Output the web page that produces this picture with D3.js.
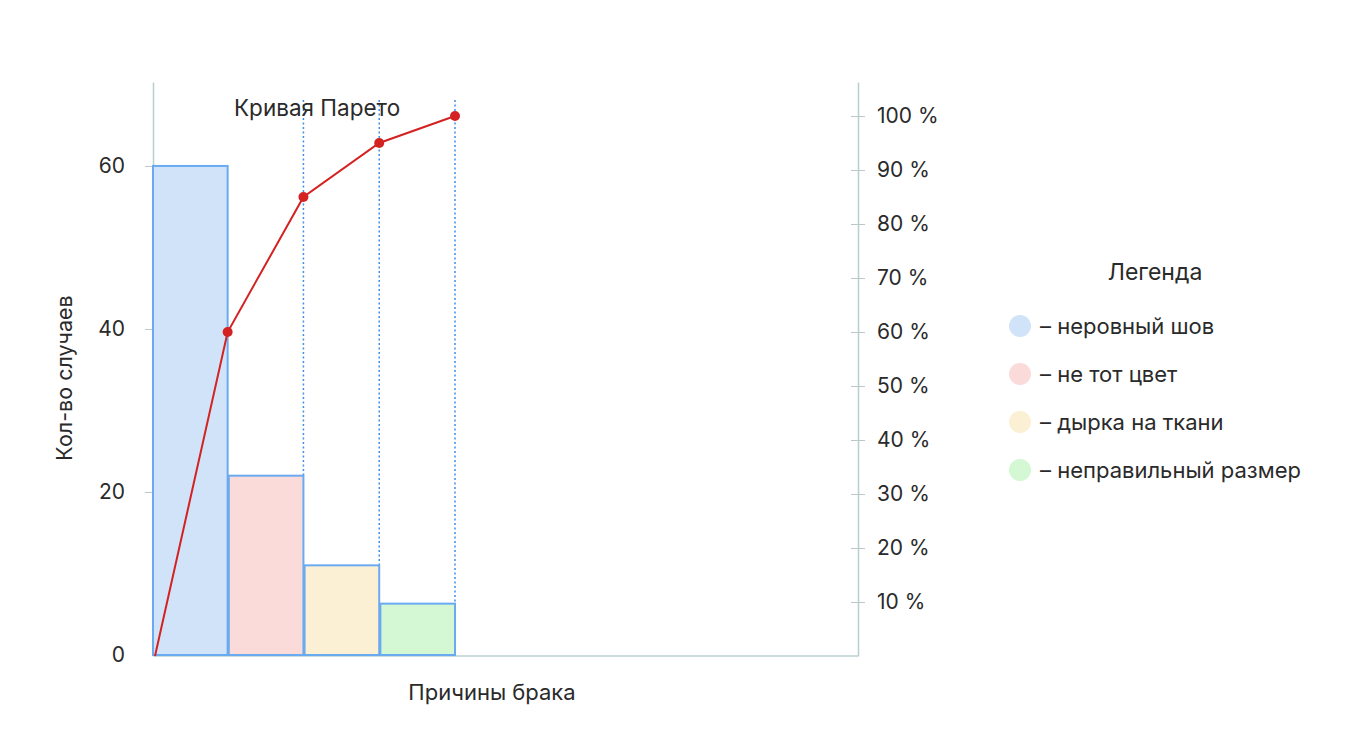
<!DOCTYPE html>
<html>
<head>
<meta charset="utf-8">
<script src="https://cdn.jsdelivr.net/npm/d3@7"></script>
<style>
  body { margin: 0; background: #fff; }
  text { font-family: Inter, "Noto Sans", sans-serif; fill: #2a2a2a; }
</style>
</head>
<body>
<div id="chart"></div>
<script>
// data
var categories = ["неровный шов", "не тот цвет", "дырка на ткани", "неправильный размер"];
var counts = [60, 22, 11, 6.3];
var cumulative = [60, 85, 95, 100];   // % on the right axis
var countTicks = [0, 20, 40, 60];
var percentTicks = [10, 20, 30, 40, 50, 60, 70, 80, 90, 100];

var fills = ["#d0e3f8", "#fbdada", "#fcf0d4", "#d3f8d3"];
var axisColor = "#b8d0d0";

var svg = d3.select("#chart")
  .append("svg")
  .attr("width", 1352)
  .attr("height", 740);

// scales
var x = d3.scaleBand()
  .domain(categories)
  .range([153, 455])
  .paddingInner(0.015);

var y = d3.scaleLinear()
  .domain([0, 70.3])
  .range([655, 82]);

var yR = d3.scaleLinear()
  .domain([0, 106.3])
  .range([656, 82]);

var left = 153, right = 858;

// x axis line
svg.append("line")
  .attr("x1", left).attr("x2", right)
  .attr("y1", 656).attr("y2", 656)
  .attr("stroke", axisColor)
  .attr("stroke-width", 1.5);

// left axis
var gl = svg.append("g")
  .attr("transform", "translate(" + left + ",0)")
  .call(d3.axisLeft(y).tickValues(countTicks).tickSizeInner(8).tickSizeOuter(0).tickPadding(20));
gl.select(".domain").attr("stroke", axisColor).attr("stroke-width", 1.5);
gl.selectAll(".tick line").attr("stroke", "#bcc8c8");
gl.selectAll(".tick text")
  .style("font-size", "21px")
  .style("fill", "#2a2a2a");
gl.selectAll(".tick").filter(function(d) { return d === 0; }).select("line").remove();

// right axis
var gr = svg.append("g")
  .attr("transform", "translate(" + right + ",0)")
  .call(d3.axisRight(yR).tickValues(percentTicks).tickSizeInner(7).tickSizeOuter(0).tickPadding(12)
    .tickFormat(function(d) { return d + " %"; }));
gr.select(".domain").attr("stroke", axisColor).attr("stroke-width", 1.5);
gr.selectAll(".tick line").attr("x1", -7).attr("x2", 7).attr("stroke", "#bcc8c8");
gr.selectAll(".tick text")
  .style("font-size", "21px")
  .style("fill", "#2a2a2a");

// dotted guides from the top down to each bar
svg.selectAll(".guide")
  .data(categories.slice(1))
  .enter()
  .append("line")
    .attr("class", "guide")
    .attr("x1", function(d) { return x(d) + x.bandwidth(); })
    .attr("x2", function(d) { return x(d) + x.bandwidth(); })
    .attr("y1", 100)
    .attr("y2", function(d) { return y(counts[categories.indexOf(d)]); })
    .attr("stroke", "#3f8ee8")
    .attr("stroke-width", 1.5)
    .attr("stroke-dasharray", "2,2.5");

// bars
svg.selectAll(".bar")
  .data(categories)
  .enter()
  .append("rect")
    .attr("class", "bar")
    .attr("x", function(d) { return x(d); })
    .attr("y", function(d, i) { return y(counts[i]); })
    .attr("width", x.bandwidth())
    .attr("height", function(d, i) { return y(0) - y(counts[i]); })
    .attr("fill", function(d, i) { return fills[i]; })
    .attr("stroke", "#6aaaf0")
    .attr("stroke-width", 2);

// pareto curve
var pts = [[x(categories[0]) + 2, yR(0)]].concat(categories.map(function(d, i) {
  return [x(d) + x.bandwidth(), yR(cumulative[i])];
}));

svg.append("path")
  .datum(pts)
  .attr("d", d3.line())
  .attr("fill", "none")
  .attr("stroke", "#d42222")
  .attr("stroke-width", 2);

svg.selectAll(".dot")
  .data(pts.slice(1))
  .enter()
  .append("circle")
    .attr("class", "dot")
    .attr("cx", function(d) { return d[0]; })
    .attr("cy", function(d) { return d[1]; })
    .attr("r", 5)
    .attr("fill", "#d42222");

// titles
svg.append("text")
  .attr("x", 234)
  .attr("y", 116)
  .style("font-size", "22.5px")
  .text("Кривая Парето");

svg.append("text")
  .attr("x", 492)
  .attr("y", 700)
  .attr("text-anchor", "middle")
  .style("font-size", "22px")
  .text("Причины брака");

svg.append("text")
  .attr("transform", "translate(72,378) rotate(-90)")
  .attr("text-anchor", "middle")
  .style("font-size", "21.5px")
  .text("Кол-во случаев");

// legend
svg.append("text")
  .attr("x", 1155)
  .attr("y", 280)
  .attr("text-anchor", "middle")
  .style("font-size", "23px")
  .text("Легенда");

var lg = svg.selectAll(".legend")
  .data(categories)
  .enter()
  .append("g")
    .attr("class", "legend")
    .attr("transform", function(d, i) { return "translate(1020," + (326 + i * 48) + ")"; });

lg.append("circle")
  .attr("r", 11)
  .attr("fill", function(d, i) { return fills[i]; });

lg.append("text")
  .attr("x", 20)
  .attr("y", 8)
  .style("font-size", "22px")
  .text(function(d) { return "– " + d; });
</script>
</body>
</html>
